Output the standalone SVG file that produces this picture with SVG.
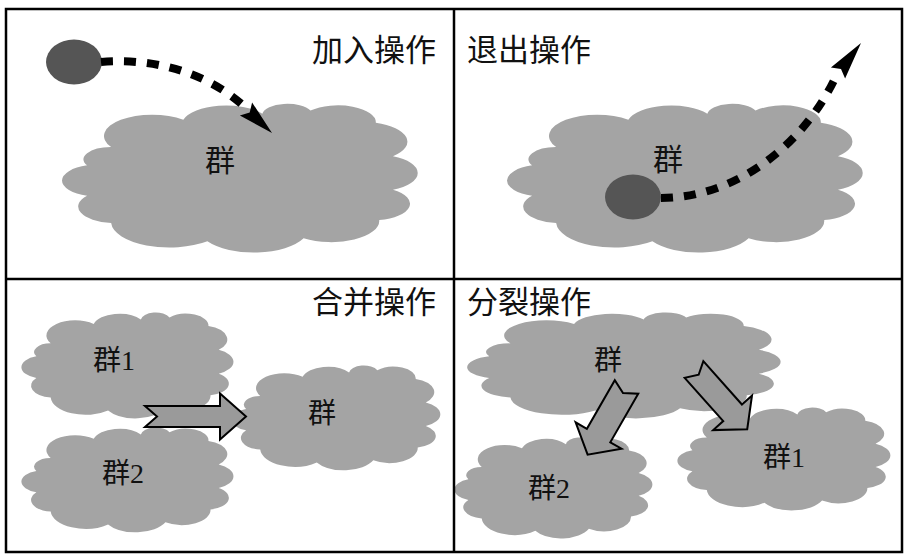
<svg xmlns="http://www.w3.org/2000/svg" xmlns:xlink="http://www.w3.org/1999/xlink" width="915" height="560" viewBox="0 0 915 560">
<style>
.cloud{fill:#a4a4a4}
.member{fill:#555555}
.title{font-family:"Liberation Serif","Noto Sans CJK SC",serif;font-size:31px;fill:#111}
.lbl{font-family:"Liberation Serif","Noto Sans CJK SC",serif;font-size:30px;fill:#111}
.lbl2{font-family:"Liberation Serif","Noto Sans CJK SC",serif;font-size:28px;fill:#111}
.dash{fill:none;stroke:#000;stroke-width:8;stroke-dasharray:12 11}
.head{fill:#000}
.frame{fill:none;stroke:#000;stroke-width:2.5}
</style>
<defs>
<path id="cloudShape" d="M5,42 A8,8 0 0 1 12,30 A14,14 0 0 1 33,12 A13,13 0 0 1 56,8 A7.3,7.3 0 0 1 70,6 A11,11 0 0 1 89,14 A13,13 0 0 1 94,36 A12,12 0 0 1 94,58 A11,11 0 0 1 90,78 A14,14 0 0 1 68,90 A16,16 0 0 1 40,92 A17,17 0 0 1 12,80 A11,11 0 0 1 5,62 A10.5,10.5 0 0 1 5,42 Z"/>
</defs>
<rect x="0" y="0" width="915" height="560" fill="#fff"/>

<g id="cloud-join">
<use xlink:href="#cloudShape" href="#cloudShape" class="cloud" transform="translate(69.9,101.5) scale(3.437,1.52)"/>
<text class="lbl" x="220" y="171" text-anchor="middle">群</text>
</g>
<g id="cloud-leave">
<use xlink:href="#cloudShape" href="#cloudShape" class="cloud" transform="translate(514.9,101.5) scale(3.437,1.52)"/>
<text class="lbl" x="668" y="170" text-anchor="middle">群</text>
</g>
<g id="cloud-merge-1">
<use xlink:href="#cloudShape" href="#cloudShape" class="cloud" transform="translate(26.1,310.9) scale(2.049,1.082)"/>
<text class="lbl2" x="93" y="370">群1</text>
</g>
<g id="cloud-merge-2">
<use xlink:href="#cloudShape" href="#cloudShape" class="cloud" transform="translate(26.1,425.9) scale(2.049,1.071)"/>
<text class="lbl2" x="102" y="483">群2</text>
</g>
<g id="cloud-merged">
<use xlink:href="#cloudShape" href="#cloudShape" class="cloud" transform="translate(236,363.9) scale(2.019,1.071)"/>
<text class="lbl2" x="322" y="423" text-anchor="middle">群</text>
</g>
<g id="cloud-split">
<use xlink:href="#cloudShape" href="#cloudShape" class="cloud" transform="translate(474.1,310.9) scale(3.029,1.082)"/>
<text class="lbl2" x="608" y="370" text-anchor="middle">群</text>
</g>
<g id="cloud-split-2">
<use xlink:href="#cloudShape" href="#cloudShape" class="cloud" transform="translate(458.8,436) scale(1.913,1.031)"/>
<text class="lbl2" x="528" y="498">群2</text>
</g>
<g id="cloud-split-1">
<use xlink:href="#cloudShape" href="#cloudShape" class="cloud" transform="translate(682.1,406) scale(2.058,1.051)"/>
<text class="lbl2" x="763" y="467">群1</text>
</g>

<g id="member-join">
<ellipse class="member" cx="74" cy="62" rx="28" ry="22.5"/>
</g>
<g id="member-leave">
<ellipse class="member" cx="633" cy="197" rx="28" ry="22.5"/>
</g>

<g id="connectors">
<path class="dash" d="M101,62 C150,58 205,70 246,108"/>
<polygon class="head" points="272,133 239.9,115.6 249.7,112.4 252.1,102.4"/>
<path class="dash" d="M661,198 C735,198 805,145 837,74"/>
<polygon class="head" points="861,43 845.1,78.5 841,69 830.9,67.5"/>
<g fill="#9a9a9a" stroke="#000" stroke-width="2">
<path d="M145,406 L220,406 L220,393.5 L246,416.5 L220,439.5 L220,427 L145,427 L157,416.5 Z"/>
<path transform="translate(626.5,387) rotate(119.9)" d="M0,-13.5 L56,-13.5 L56,-26.5 L78,0 L56,26.5 L56,13.5 L0,13.5 L7,0 Z"/>
<path transform="translate(694,369.5) rotate(48.3)" d="M0,-12.5 L58,-12.5 L58,-26 L80,0 L58,26 L58,12.5 L0,12.5 L7,0 Z"/>
</g>
</g>

<g id="titles">
<text class="title" x="436" y="61" text-anchor="end">加入操作</text>
<text class="title" x="467" y="61">退出操作</text>
<text class="title" x="436" y="313" text-anchor="end">合并操作</text>
<text class="title" x="467" y="313">分裂操作</text>
</g>

<g id="frame">
<rect class="frame" x="6" y="9" width="896" height="543"/>
<line class="frame" x1="454" y1="9" x2="454" y2="552"/>
<line class="frame" x1="6" y1="279" x2="902" y2="279"/>
</g>
</svg>
